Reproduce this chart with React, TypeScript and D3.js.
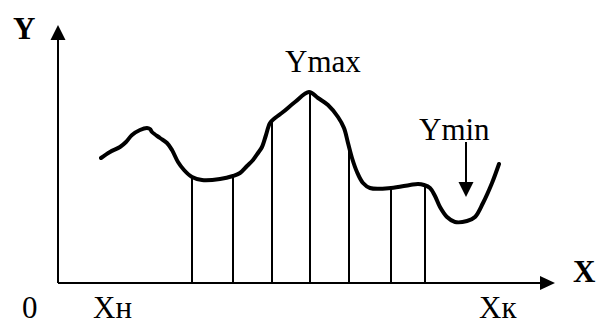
import React from "react";
import * as d3 from "d3";

// Curve samples (data units: x along axis, y above axis)
const curveX = [43, 52, 62, 68, 74, 82, 89, 92, 94, 102, 109, 114, 120, 126, 134, 144, 162, 175, 182, 189, 195, 200, 204, 208, 212, 217, 225, 237, 251, 260, 270, 280, 286, 290, 294, 299, 305, 312, 333, 352, 360, 366, 372, 377, 382, 389, 397, 409, 417, 425, 434, 441];
const curveY = [125, 131, 136, 141, 148, 153, 155, 154, 151, 145, 140, 133, 121, 113, 106, 103, 104, 107, 110, 117, 123, 130, 136, 148, 160, 165, 171, 181, 191, 185, 178, 166, 155, 140, 125, 111, 100, 95, 95, 98, 99, 98, 95, 87, 76, 66, 61, 62, 66, 80, 100, 119];
// Ordinate positions
const ordinatesX = [134, 175, 214, 252, 291, 333, 367];
// Ymin pointer
const yminArrow = { x: 408, top: 141, bottom: 86 };

const labels = {
  y: "Y",
  x: "X",
  origin: "0",
  xStart: "Xн",
  xEnd: "Xк",
  ymax: "Ymax",
  ymin: "Ymin",
};

const W = 597;
const H = 324;

export default function App() {
  const ox = 58;
  const oy = 283;
  const xScale = d3.scaleLinear().domain([0, 497]).range([ox, ox + 497]);
  const yScale = d3.scaleLinear().domain([0, 258]).range([oy, oy - 258]);

  const pts: [number, number][] = curveX.map((x, i) => [x, curveY[i]]);
  const line = d3
    .line<[number, number]>()
    .x((d) => xScale(d[0]))
    .y((d) => yScale(d[1]))
    .curve(d3.curveCatmullRom.alpha(0.5));
  const interp = (x: number) => {
    for (let i = 0; i < curveX.length - 1; i++) {
      if (x >= curveX[i] && x <= curveX[i + 1]) {
        const t = (x - curveX[i]) / (curveX[i + 1] - curveX[i]);
        return curveY[i] + t * (curveY[i + 1] - curveY[i]);
      }
    }
    return 0;
  };

  const font = "'Liberation Serif', 'Times New Roman', serif";
  const axEnd = xScale(497);
  const ayEnd = yScale(258);

  return (
    <svg
      width={W}
      height={H}
      style={{ position: "absolute", left: 0, top: 0, background: "#fff" }}
      fontFamily={font}
    >
      {/* ordinates */}
      {ordinatesX.map((x, i) => (
        <line
          key={i}
          x1={xScale(x)}
          x2={xScale(x)}
          y1={yScale(0)}
          y2={yScale(interp(x))}
          stroke="#000"
          strokeWidth={2}
        />
      ))}
      {/* axes */}
      <line x1={ox} y1={oy} x2={axEnd - 12} y2={oy} stroke="#000" strokeWidth={2} />
      <path d={`M${axEnd},${oy} L${axEnd - 15},${oy - 7} L${axEnd - 15},${oy + 7} Z`} fill="#000" />
      <line x1={ox} y1={oy} x2={ox} y2={ayEnd + 12} stroke="#000" strokeWidth={2} />
      <path d={`M${ox},${ayEnd} L${ox - 7.5},${ayEnd + 15} L${ox + 7.5},${ayEnd + 15} Z`} fill="#000" />
      {/* curve */}
      <path d={line(pts) || ""} fill="none" stroke="#000" strokeWidth={4} strokeLinejoin="round" strokeLinecap="round" />
      {/* Ymin arrow */}
      <line
        x1={xScale(yminArrow.x)}
        x2={xScale(yminArrow.x)}
        y1={yScale(yminArrow.top)}
        y2={yScale(yminArrow.bottom) - 12}
        stroke="#000"
        strokeWidth={2}
      />
      <path
        d={`M${xScale(yminArrow.x)},${yScale(yminArrow.bottom)} L${xScale(yminArrow.x) - 7.5},${yScale(yminArrow.bottom) - 15} L${xScale(yminArrow.x) + 7.5},${yScale(yminArrow.bottom) - 15} Z`}
        fill="#000"
      />
      {/* labels */}
      <text x={13} y={39} fontSize={31} fontWeight="bold">{labels.y}</text>
      <text x={573} y={282} fontSize={31} fontWeight="bold">{labels.x}</text>
      <text x={22} y={318} fontSize={31}>{labels.origin}</text>
      <text x={93} y={318} fontSize={31}>{labels.xStart}</text>
      <text x={479} y={318} fontSize={31}>{labels.xEnd}</text>
      <text x={285} y={72} fontSize={31}>{labels.ymax}</text>
      <text x={419} y={140} fontSize={31}>{labels.ymin}</text>
    </svg>
  );
}
